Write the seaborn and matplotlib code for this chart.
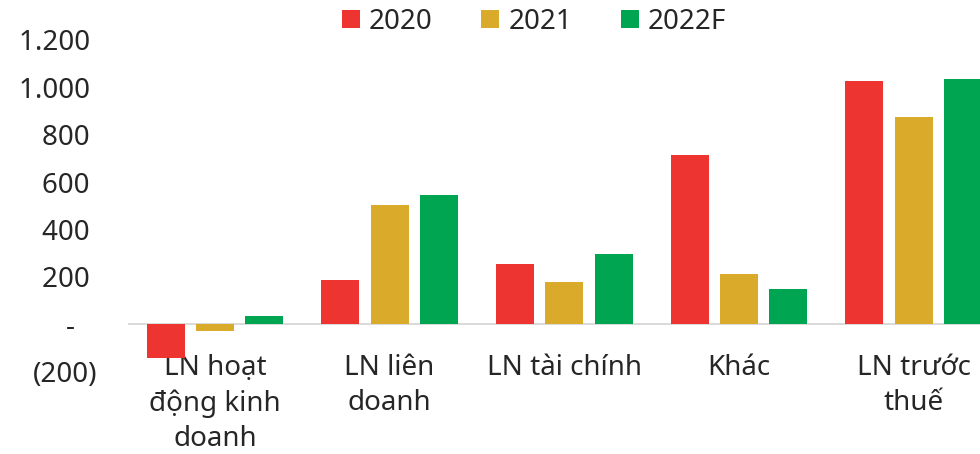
import pandas as pd
import numpy as np
import matplotlib
matplotlib.use("Agg")
import matplotlib.pyplot as plt
import seaborn as sns

## Data (bn VND)
categories = ["LN hoạt\nđộng kinh\ndoanh", "LN liên\ndoanh", "LN tài chính", "Khác", "LN trước\nthuế"]
years = ["2020", "2021", "2022F"]
v2020 = [-141, 186, 254, 715, 1025]
v2021 = [-30, 504, 179, 211, 877]
v2022 = [34, 544, 297, 147, 1034]
yticks = [-200, 0, 200, 400, 600, 800, 1000, 1200]

colors = {"2020": "#EE3431", "2021": "#DAAB2B", "2022F": "#00A551"}

rows = []
for year, vals in zip(years, [v2020, v2021, v2022]):
    for cat, v in zip(categories, vals):
        rows.append({"cat": cat, "year": year, "value": v})
df = pd.DataFrame(rows)

sns.set_style("white")
plt.rcParams['font.family'] = ['Noto Sans', 'DejaVu Sans']
FS = 20

fig = plt.figure(figsize=(9.8, 4.54), dpi=100)
ax = fig.add_axes([127.6/980, (454-371.7)/454, (1001-127.6)/980, 331.7/454])

sns.barplot(data=df, x="cat", y="value", hue="year", order=categories, hue_order=years,
            palette=colors, width=0.847, gap=0.23, linewidth=0, saturation=1, ax=ax)

ax.axhline(0, color='#d9d9d9', lw=1.4, zorder=0.5)
ax.set_xlim(-0.5, 4.5)
ax.set_ylim(-200, 1200)

def fmt(v):
    if v == 0:
        return "-   "
    if v < 0:
        return "({:,})".format(abs(v)).replace(",", ".")
    return "{:,} ".format(v).replace(",", ".")

ax.set_yticks(yticks)
ax.set_yticklabels([fmt(v) for v in yticks], fontsize=FS)
ax.set_xticks(range(len(categories)))
ax.set_xticklabels(categories, fontsize=FS, linespacing=1.35)
ax.tick_params(axis='y', length=0, pad=22)
ax.tick_params(axis='x', length=0, pad=-13)
ax.set_xlabel("")
ax.set_ylabel("")
for s in ax.spines.values():
    s.set_visible(False)

handles, labels = ax.get_legend_handles_labels()
ax.legend(handles, labels, loc='center', bbox_to_anchor=(0.545, 0.952), bbox_transform=fig.transFigure,
          ncol=3, frameon=False, fontsize=FS, handlelength=0.65, handleheight=0.65,
          handletextpad=0.32, columnspacing=1.75)

plt.savefig("out.png", dpi=100, facecolor='white')
